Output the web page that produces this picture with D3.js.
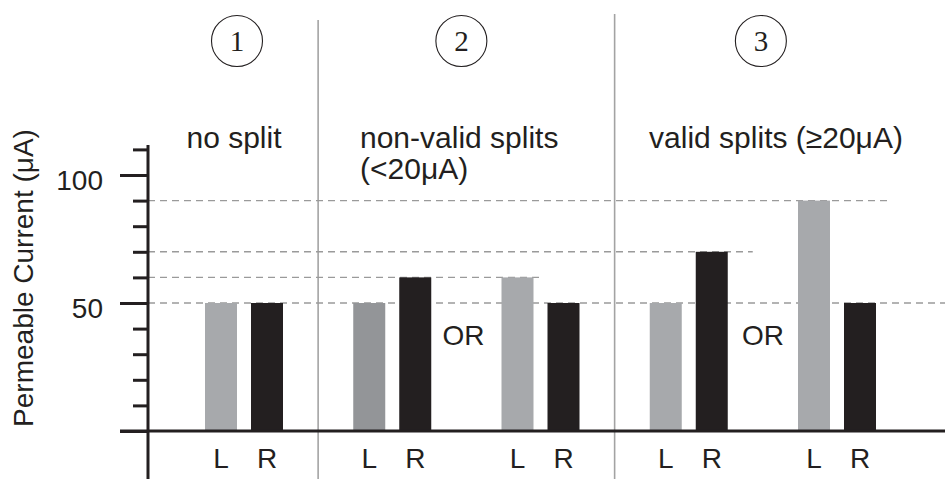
<!DOCTYPE html>
<html>
<head>
<meta charset="utf-8">
<script src="https://cdn.jsdelivr.net/npm/d3@7"></script>
<style>
  html, body { margin: 0; padding: 0; background: #fff; }
  svg { display: block; }
  text { font-family: "Liberation Sans", Arial, Helvetica, sans-serif; fill: #231f20; }
</style>
</head>
<body>
<svg id="chart" width="945" height="479"></svg>
<script>
// ---- data ----
const pairs = ["1", "2a", "2b", "3a", "3b"];
const sides = ["L", "R"];
const leftValues = [50, 50, 60, 50, 90];
const rightValues = [50, 60, 50, 70, 50];
const panelNumbers = ["1", "2", "3"];
const panelTitles = [["no split"], ["non-valid splits", "(<20μA)"], ["valid splits (≥20μA)"]];
const yMajorTicks = [0, 50, 100];
const yMinorTicks = [10, 20, 30, 40, 60, 70, 80, 90, 110];
const yLabel = "Permeable Current (μA)";
const refLevels = [90, 70, 60, 50];
const orText = "OR";

// ---- layout ----
const svg = d3.select("#chart");
const W = 945, H = 479;
const axisX = 148;
const y = d3.scaleLinear().domain([0, 100]).range([431, 175]);
const pairX = d3.scaleLinear().domain([0, pairs.length - 1]).range([205, 798]);
const sideX = d3.scaleBand().domain(sides).range([0, 78]).paddingInner(14 / 46);
const bw = sideX.bandwidth();
const ink = "#231f20";
const sepColor = "#a3a3a3";

const bars = [];
pairs.forEach((p, i) => {
  bars.push({ pair: i, side: "L", v: leftValues[i] });
  bars.push({ pair: i, side: "R", v: rightValues[i] });
});
const barX = d => pairX(d.pair) + sideX(d.side);
const pairEnd = i => pairX(i) + 78;

// separators between panels
const sepXs = [(pairEnd(0) + pairX(1)) / 2, (pairEnd(2) + pairX(3)) / 2];
svg.selectAll("line.sep").data(sepXs).join("line")
  .attr("class", "sep")
  .attr("x1", d => d).attr("x2", d => d)
  .attr("y1", (d, i) => i === 0 ? 20 : 14).attr("y2", H)
  .attr("stroke", sepColor).attr("stroke-width", 1.6);

// dashed reference lines
const refEnds = { 90: pairX(4) + sideX("R") + bw + 14, 70: pairX(3) + sideX("R") + bw + 25, 60: pairX(2) + bw + 6, 50: W };
svg.selectAll("line.ref").data(refLevels).join("line")
  .attr("class", "ref")
  .attr("x1", axisX).attr("x2", d => refEnds[d])
  .attr("y1", d => y(d)).attr("y2", d => y(d))
  .attr("stroke", "#9a9a9a").attr("stroke-width", 1.4)
  .attr("stroke-dasharray", "7,5");

// bars
svg.selectAll("rect.bar").data(bars).join("rect")
  .attr("class", "bar")
  .attr("x", barX)
  .attr("width", bw)
  .attr("y", d => y(d.v))
  .attr("height", d => y(0) - y(d.v))
  .attr("fill", d => d.side === "R" ? ink : (d.pair === 1 ? "#939598" : "#a7a9ac"));

// baseline
svg.append("line")
  .attr("x1", 120).attr("x2", W)
  .attr("y1", y(0)).attr("y2", y(0))
  .attr("stroke", ink).attr("stroke-width", 3);

// y axis
const gMinor = svg.append("g").attr("transform", `translate(${axisX},0)`)
  .call(d3.axisLeft(y).tickValues(yMinorTicks).tickSize(15).tickFormat(""));
const gMajor = svg.append("g").attr("transform", `translate(${axisX},0)`)
  .call(d3.axisLeft(y).tickValues(yMajorTicks).tickSize(28).tickPadding(17).tickFormat(d => d === 0 ? "" : d));
[gMinor, gMajor].forEach(g => {
  g.select(".domain").remove();
  g.selectAll(".tick line").attr("stroke", ink).attr("stroke-width", 3);
});
gMajor.selectAll(".tick text")
  .attr("font-size", 28).attr("fill", ink)
  .attr("font-family", "'Liberation Sans', Arial, sans-serif")
  .attr("dy", "0.5em");
svg.append("line")
  .attr("x1", axisX).attr("x2", axisX)
  .attr("y1", y(111.7)).attr("y2", H)
  .attr("stroke", ink).attr("stroke-width", 3);

// y label
svg.append("text")
  .attr("transform", "translate(33,278) rotate(-90)")
  .attr("text-anchor", "middle")
  .attr("font-size", 28)
  .text(yLabel);

// L / R labels
svg.selectAll("text.side").data(bars).join("text")
  .attr("class", "side")
  .attr("x", d => barX(d) + bw / 2)
  .attr("y", 468)
  .attr("text-anchor", "middle")
  .attr("font-size", 28)
  .text(d => d.side);

// OR labels
const orXs = [(pairEnd(1) + pairX(2)) / 2 - 3, (pairEnd(3) + pairX(4)) / 2];
svg.selectAll("text.or").data(orXs).join("text")
  .attr("class", "or")
  .attr("x", d => d).attr("y", 345)
  .attr("text-anchor", "middle")
  .attr("font-size", 28)
  .text(orText);

// panel circles and numbers
const circleXs = [pairX(0) + 32, (pairX(1) + pairEnd(2)) / 2 - 5, (pairX(3) + pairEnd(4)) / 2 - 2];
const gc = svg.selectAll("g.num").data(panelNumbers).join("g")
  .attr("class", "num")
  .attr("transform", (d, i) => `translate(${circleXs[i]},41)`);
gc.append("ellipse").attr("rx", 25.5).attr("ry", 25.5)
  .attr("fill", "none").attr("stroke", ink).attr("stroke-width", 1.1);
gc.append("text")
  .attr("text-anchor", "middle").attr("y", 9.5)
  .attr("font-size", 29)
  .style("font-family", "'Liberation Serif', 'Times New Roman', serif")
  .text(d => d);

// panel titles
const titlePos = [
  { x: 234, anchor: "middle" },
  { x: 360, anchor: "start" },
  { x: 776, anchor: "middle" }
];
panelTitles.forEach((lines, i) => {
  const t = svg.append("text")
    .attr("x", titlePos[i].x).attr("y", 148)
    .attr("text-anchor", titlePos[i].anchor)
    .attr("font-size", 30);
  lines.forEach((ln, j) => {
    t.append("tspan").attr("x", titlePos[i].x).attr("dy", j === 0 ? 0 : 31).text(ln);
  });
});
</script>
</body>
</html>
